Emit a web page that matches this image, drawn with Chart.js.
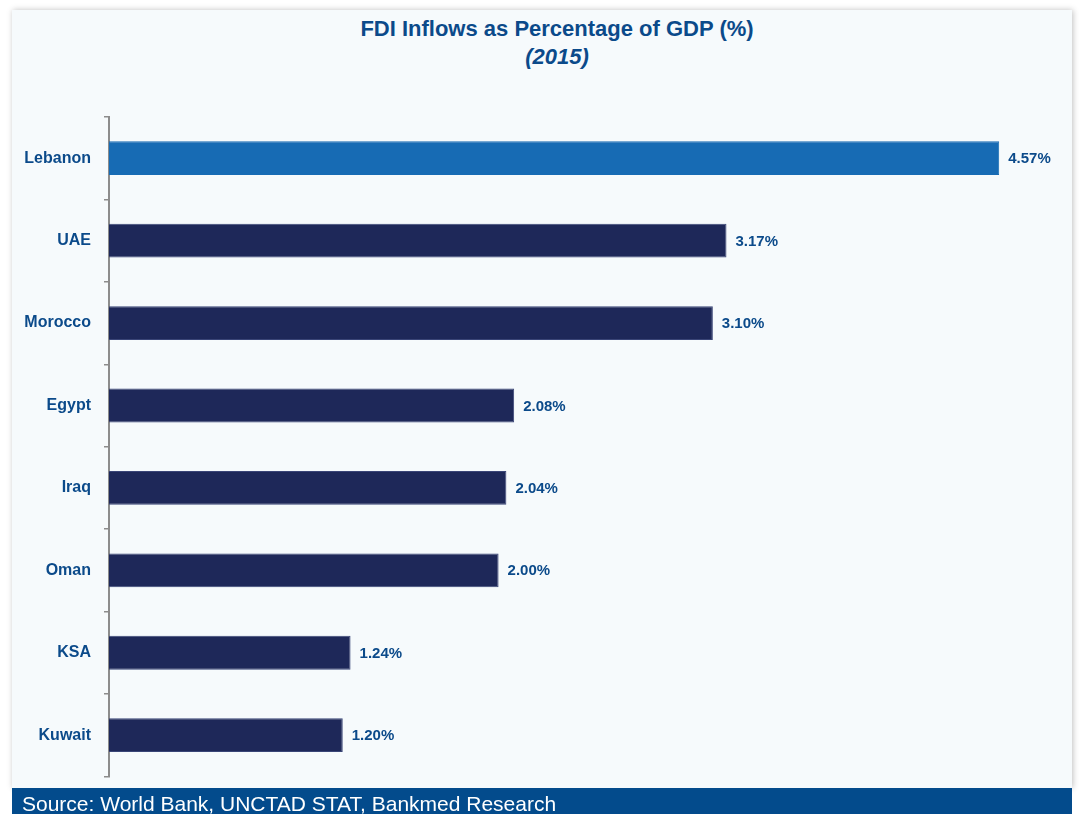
<!DOCTYPE html>
<html>
<head>
<meta charset="utf-8">
<script src="https://cdn.jsdelivr.net/npm/chart.js@4"></script>
<style>
  body{margin:0;background:#fff;width:1079px;height:814px;overflow:hidden;font-family:"Liberation Sans",Arial,sans-serif;}
  #card{position:absolute;left:12px;top:10px;width:1060px;height:778px;background:#f6fafc;box-shadow:1px 0 6px rgba(0,0,0,0.25);}
  #title{position:absolute;left:15px;width:1060px;top:5px;text-align:center;color:#0b4a8a;font-weight:bold;font-size:22px;line-height:28px;}
  #title i{font-size:22px;}
  #wrap{position:absolute;left:0;top:0;width:1060px;height:789px;}
  #foot{position:absolute;left:12px;top:788px;width:1060px;height:26px;background:#034b8c;color:#fff;font-size:21px;line-height:32px;padding-left:10px;box-sizing:border-box;}
</style>
</head>
<body>
<div id="card">
  <div id="title">FDI Inflows as Percentage of GDP (%)<br><i>(2015)</i></div>
  <div id="wrap"><canvas id="c"></canvas></div>
</div>
<div id="foot">Source: World Bank, UNCTAD STAT, Bankmed Research</div>
<script>
const countries = ["Lebanon","UAE","Morocco","Egypt","Iraq","Oman","KSA","Kuwait"];
const fdiPct = [4.57, 3.17, 3.10, 2.08, 2.04, 2.00, 1.24, 1.20];
const barColors = countries.map(c => c === "Lebanon" ? "#176bb4" : "#1e2859");

// value labels to the right of each bar
const valueLabels = {
  id:"valueLabels",
  afterDatasetsDraw(chart){
    const ctx = chart.ctx;
    const meta = chart.getDatasetMeta(0);
    ctx.save();
    ctx.font = "bold 15px 'Liberation Sans', Arial, sans-serif";
    ctx.fillStyle = "#0b4a8a";
    ctx.textBaseline = "middle";
    ctx.textAlign = "left";
    meta.data.forEach((bar, i) => {
      ctx.fillText(fdiPct[i].toFixed(2) + "%", bar.x + 9, bar.y + 1);
    });
    ctx.restore();
  }
};

new Chart(document.getElementById("c"), {
  type:"bar",
  data:{
    labels: countries,
    datasets:[{
      data: fdiPct,
      backgroundColor: barColors,
      borderColor: countries.map(c => c === "Lebanon" ? "#176bb4" : "#3a4577"),
      borderWidth: 1,
      borderSkipped: "start",
      barPercentage: 0.41,
      categoryPercentage: 1
    }]
  },
  options:{
    indexAxis:"y",
    responsive:true,
    maintainAspectRatio:false,
    animation:false,
    layout:{padding:{top:107, bottom:0, right:28, left:0}},
    plugins:{legend:{display:false}, tooltip:{enabled:false}},
    scales:{
      x:{display:false, min:0, max:4.8},
      y:{
        afterFit(s){ s.width = 97; },
        border:{display:true, color:"#8c8c8c", width:2},
        grid:{display:true, drawOnChartArea:false, color:"#8c8c8c", tickLength:5, lineWidth:1.5},
        ticks:{color:"#0b4a8a", padding:13, font:{family:"'Liberation Sans', Arial, sans-serif", size:16, weight:"bold"}}
      }
    }
  },
  plugins:[valueLabels]
});
</script>
</body>
</html>
